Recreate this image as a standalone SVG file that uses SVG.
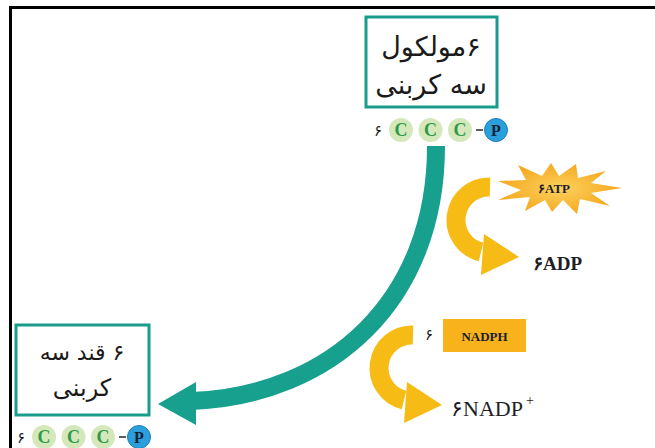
<svg xmlns="http://www.w3.org/2000/svg" width="655" height="448" viewBox="0 0 655 448">
<style>
.fa{font-family:"DejaVu Sans",sans-serif;fill:#1a1a1a;direction:rtl}
.lat{font-family:"Liberation Serif","DejaVu Serif",serif;font-weight:bold;fill:#1e1e28}
.reg{font-family:"Liberation Serif","DejaVu Serif",serif;font-weight:normal;fill:#1e1e28}
.dig{font-family:"DejaVu Sans",sans-serif;fill:#1e1e28}
.box{fill:#ffffff;stroke:#1a9c8c;stroke-width:3}
.cc{fill:#d5e8bb}
.cl{font-family:"Liberation Serif",serif;font-weight:bold;font-size:18px;fill:#2e9a48;text-anchor:middle}
.pc{fill:#2a9fdc;stroke:#1d7fb8;stroke-width:1}
.pl{font-family:"Liberation Serif",serif;font-weight:bold;font-size:16px;fill:#152236;text-anchor:middle}
.yel{fill:none;stroke:#f6bb14;stroke-width:19}
</style>
<defs>
<g id="chain">
<text x="17" y="443" class="dig" font-size="15">۶</text>
<circle cx="44" cy="437" r="12" class="cc"/>
<text x="44" y="443" class="cl">C</text>
<circle cx="73.5" cy="437" r="12" class="cc"/>
<text x="73.5" y="443" class="cl">C</text>
<circle cx="103" cy="437" r="12" class="cc"/>
<text x="103" y="443" class="cl">C</text>
<line x1="119" y1="437" x2="126" y2="437" stroke="#333" stroke-width="1.6"/>
<circle cx="139" cy="437" r="11.5" class="pc"/>
<text x="139" y="442.5" class="pl">P</text>
</g>
<g id="ccurl">
<path d="M490,187 A33,33 0 0 0 481,252" class="yel"/>
<polygon points="484,234 519,257 481,275" fill="#f6bb14"/>
</g>
<radialGradient id="sg" cx="0.5" cy="0.5" r="0.5">
<stop offset="0" stop-color="#fcd260"/>
<stop offset="1" stop-color="#f5a81e"/>
</radialGradient>
</defs>
<path d="M10.5,448 V7.5 H655" fill="none" stroke="#000" stroke-width="3"/>
<g id="connectors">
<path d="M436,146 C436,300 332,395 192,401" fill="none" stroke="#17a08e" stroke-width="18"/>
<polygon points="158,404 196,382 196,425" fill="#17a08e"/>
</g>
<g id="node-top">
<rect x="366" y="17" width="131" height="90" class="box"/>
<text x="431" y="56" class="fa" font-size="27" text-anchor="middle">۶مولکول</text>
<text x="431" y="94" class="fa" font-size="27" text-anchor="middle">سه کربنی</text>
<use href="#chain" transform="translate(357,-307)"/>
</g>
<g id="node-bottom">
<rect x="16" y="325" width="133" height="90" class="box"/>
<text x="82" y="360" class="fa" font-size="22" text-anchor="middle">۶ قند سه</text>
<text x="82" y="396" class="fa" font-size="24" text-anchor="middle">کربنی</text>
<use href="#chain"/>
</g>
<g id="atp-cycle">
<use href="#ccurl"/>
<polygon fill="url(#sg)" points="622,188 591,193 610,206 580,199 577,214 563,200 552,212 545,200 525,211 530,197 498,200 521,190 498,181 526,180 518,165 542,176 551,163 559,176 576,164 578,178 606,171 591,183" />
<text x="554" y="193" class="lat" font-size="13" text-anchor="middle">۶ATP</text>
<text x="533" y="270" class="lat" font-size="19">۶ADP</text>
</g>
<g id="nadph-cycle">
<use href="#ccurl" transform="translate(-77,148)"/>
<text x="425" y="340" class="dig" font-size="15">۶</text>
<rect x="443" y="319" width="83" height="33" fill="#f8b21c"/>
<text x="484.5" y="341" class="lat" font-size="13" text-anchor="middle">NADPH</text>
<text x="451" y="416" class="reg" font-size="22">۶NADP</text>
<text x="526" y="405" class="reg" font-size="14">+</text>
</g>
</svg>
